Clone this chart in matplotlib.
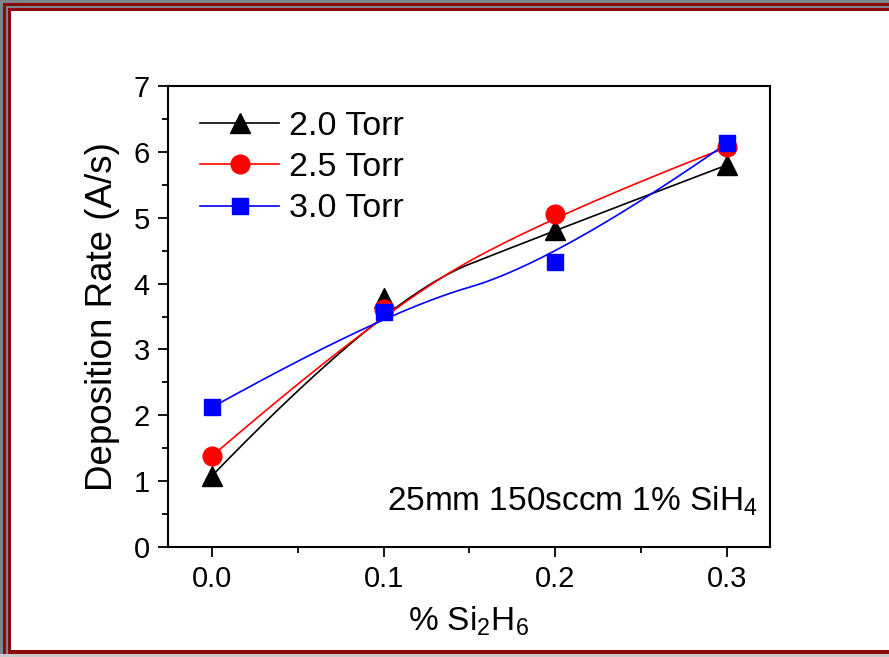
import numpy as np
import matplotlib
matplotlib.use("Agg")
import matplotlib.pyplot as plt
from matplotlib.patches import Rectangle

plt.rcParams["font.family"] = ["Liberation Sans", "DejaVu Sans"]
plt.rcParams["mathtext.fontset"] = "custom"
plt.rcParams["mathtext.rm"] = "Liberation Sans"
plt.rcParams["mathtext.it"] = "Liberation Sans"

# data
si2h6 = [0.0, 0.1, 0.2, 0.3]
rate_20 = [1.08, 3.78, 4.81, 5.80]
rate_25 = [1.38, 3.62, 5.06, 6.07]
rate_30 = [2.12, 3.57, 4.32, 6.13]
labels = ["2.0 Torr", "2.5 Torr", "3.0 Torr"]
colors = ["black", "red", "blue"]
markers = ["^", "o", "s"]
msizes = [15, 13.5, 11]


def bspline(xs, ys, n=100):
    # clamped quadratic B-spline, the points are control points
    p = np.column_stack([xs, ys]).astype(float)
    ctrl = [p[0]]
    for i in range(1, len(p) - 2):
        ctrl += [p[i], (p[i] + p[i + 1]) / 2]
    ctrl += [p[-2], p[-1]]
    t = np.linspace(0, 1, n)[:, None]
    out = []
    for k in range(0, len(ctrl) - 1, 2):
        a, b, c = ctrl[k], ctrl[k + 1], ctrl[k + 2]
        out.append((1 - t) ** 2 * a + 2 * (1 - t) * t * b + t ** 2 * c)
    c = np.vstack(out)
    return c[:, 0], c[:, 1]


fig = plt.figure(figsize=(8.89, 6.57), dpi=100)
W, H = 889, 657

# the frame around the picture
def band(x0, y0, w, h, col):
    fig.add_artist(Rectangle((x0 / W, 1 - (y0 + h) / H), w / W, h / H,
                             transform=fig.transFigure, color=col, lw=0))

gray = "#7a868c"
red = "#8b0a0a"
band(0, 0, W, 11, gray)
band(0, 0, 11, H, gray)
band(3, 3, W, 3, red)
band(3, 3, 3, H, red)
band(8, 8, W, 3, red)
band(8, 8, 3, H, red)
band(8, 650, W, 4, red)
band(0, 654, W, 3, "#c9c9c9")

ax = fig.add_axes([168 / W, 1 - 547 / H, 602 / W, 461 / H])

for ys, lab, c, m, ms in zip([rate_20, rate_25, rate_30], labels, colors, markers, msizes):
    cx, cy = bspline(si2h6, ys)
    ax.plot(cx, cy, color=c, lw=1.2, zorder=2)
    ax.plot(si2h6, ys, ls="none", marker=m, ms=ms, color=c, zorder=3)
    ax.plot([], [], color=c, lw=1.2, marker=m, ms=ms, label=lab)

ax.set_xlim(-0.0256, 0.3251)
ax.set_ylim(0, 7)
ax.set_xticks(si2h6)
ax.set_xticklabels(["0.0", "0.1", "0.2", "0.3"])
ax.set_xticks([0.05, 0.15, 0.25], minor=True)
ax.set_yticks(range(8))
ax.set_yticks(np.arange(0.5, 7, 1.0), minor=True)
ax.tick_params(which="major", direction="out", length=7, width=1.3, labelsize=21, pad=6)
ax.tick_params(which="minor", direction="out", length=4, width=1.3)
for s in ax.spines.values():
    s.set_linewidth(1.5)

ax.set_ylabel("Deposition Rate (A/s)", fontsize=26.5, labelpad=10)
ax.set_xlabel(r"% Si$_\mathregular{2}$H$_\mathregular{6}$", fontsize=24, labelpad=8)

ax.text(0.98, 0.10, r"25mm 150sccm 1% SiH$_\mathregular{4}$", fontsize=24,
        ha="right", va="center", transform=ax.transAxes)

ax.legend(loc="upper left", frameon=False, fontsize=24.5, handlelength=2.3,
          handletextpad=0.3, labelspacing=0.3, borderaxespad=0.2,
          bbox_to_anchor=(0.02, 0.99))

fig.savefig("out.png", dpi=100)
